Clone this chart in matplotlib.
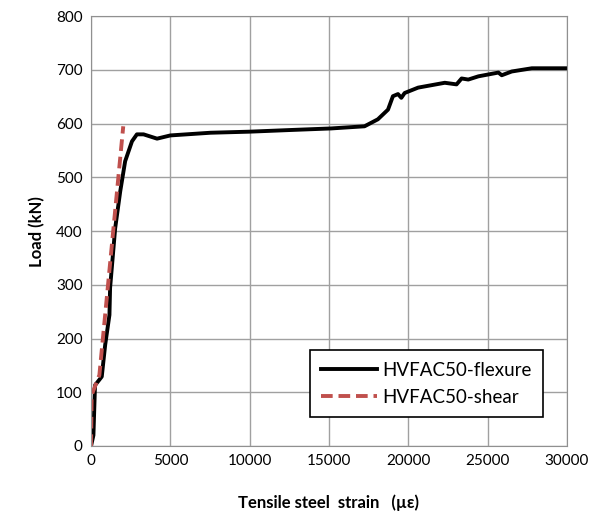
import matplotlib
matplotlib.use("Agg")
from matplotlib import pyplot as plt

# flexure curve (strain in micro-strain, load in kN)
flexStrain = [0, 150, 250, 675, 890, 1160, 1200, 1520, 1840, 2150, 2580, 2890,
              3310, 4160, 5000, 7530, 10000, 12500, 15130, 17240, 18080, 18720,
              19030, 19350, 19560, 19770, 20620, 22300, 23040, 23360, 23780,
              24420, 25680, 25890, 26520, 27790, 30100]
flexLoad = [0, 20, 113, 129, 188, 244, 294, 405, 474, 530, 567, 580,
            580, 572, 578, 583, 585, 588, 591, 595, 608, 626,
            651, 655, 648, 657, 667, 676, 673, 684, 682,
            688, 695, 690, 697, 703, 703]

# shear curve
shearStrain = [0, 40, 525, 2030]
shearLoad = [0, 95, 132, 595]

plt.rcParams['font.family'] = ['Lato', 'DejaVu Sans']

fig = plt.figure(figsize=(6.07, 5.21), dpi=100)
ax = fig.add_axes([0.150, 0.144, 0.784, 0.825])

ax.plot(flexStrain, flexLoad, color='black', linewidth=2.8, label='HVFAC50-flexure')
ax.plot(shearStrain, shearLoad, color='#C0504D', linewidth=2.8, linestyle=(0, (3, 1.5)),
        label='HVFAC50-shear')

ax.set_xlim(0, 30000)
ax.set_ylim(0, 800)
ax.set_xticks(range(0, 30001, 5000))
ax.set_yticks(range(0, 801, 100))
ax.grid(True, color='#A0A0A0', linewidth=1)
ax.set_axisbelow(True)
for s in ax.spines.values():
    s.set_color('#909090')
ax.tick_params(length=0, labelsize=11, pad=6)

ax.set_xlabel('Tensile steel  strain   (\u00b5\u03b5)', fontsize=12, fontweight='bold', labelpad=19)
ax.set_ylabel('Load (kN)', fontsize=12, fontweight='bold', labelpad=8)

leg = ax.legend(loc='lower right', bbox_to_anchor=(0.97, 0.045), fontsize=13.5,
                fancybox=False, framealpha=1, edgecolor='black', handlelength=3,
                borderpad=0.6, labelspacing=0.55, handletextpad=0.3)
leg.get_frame().set_linewidth(1.2)

fig.savefig('out.png', dpi=100)
